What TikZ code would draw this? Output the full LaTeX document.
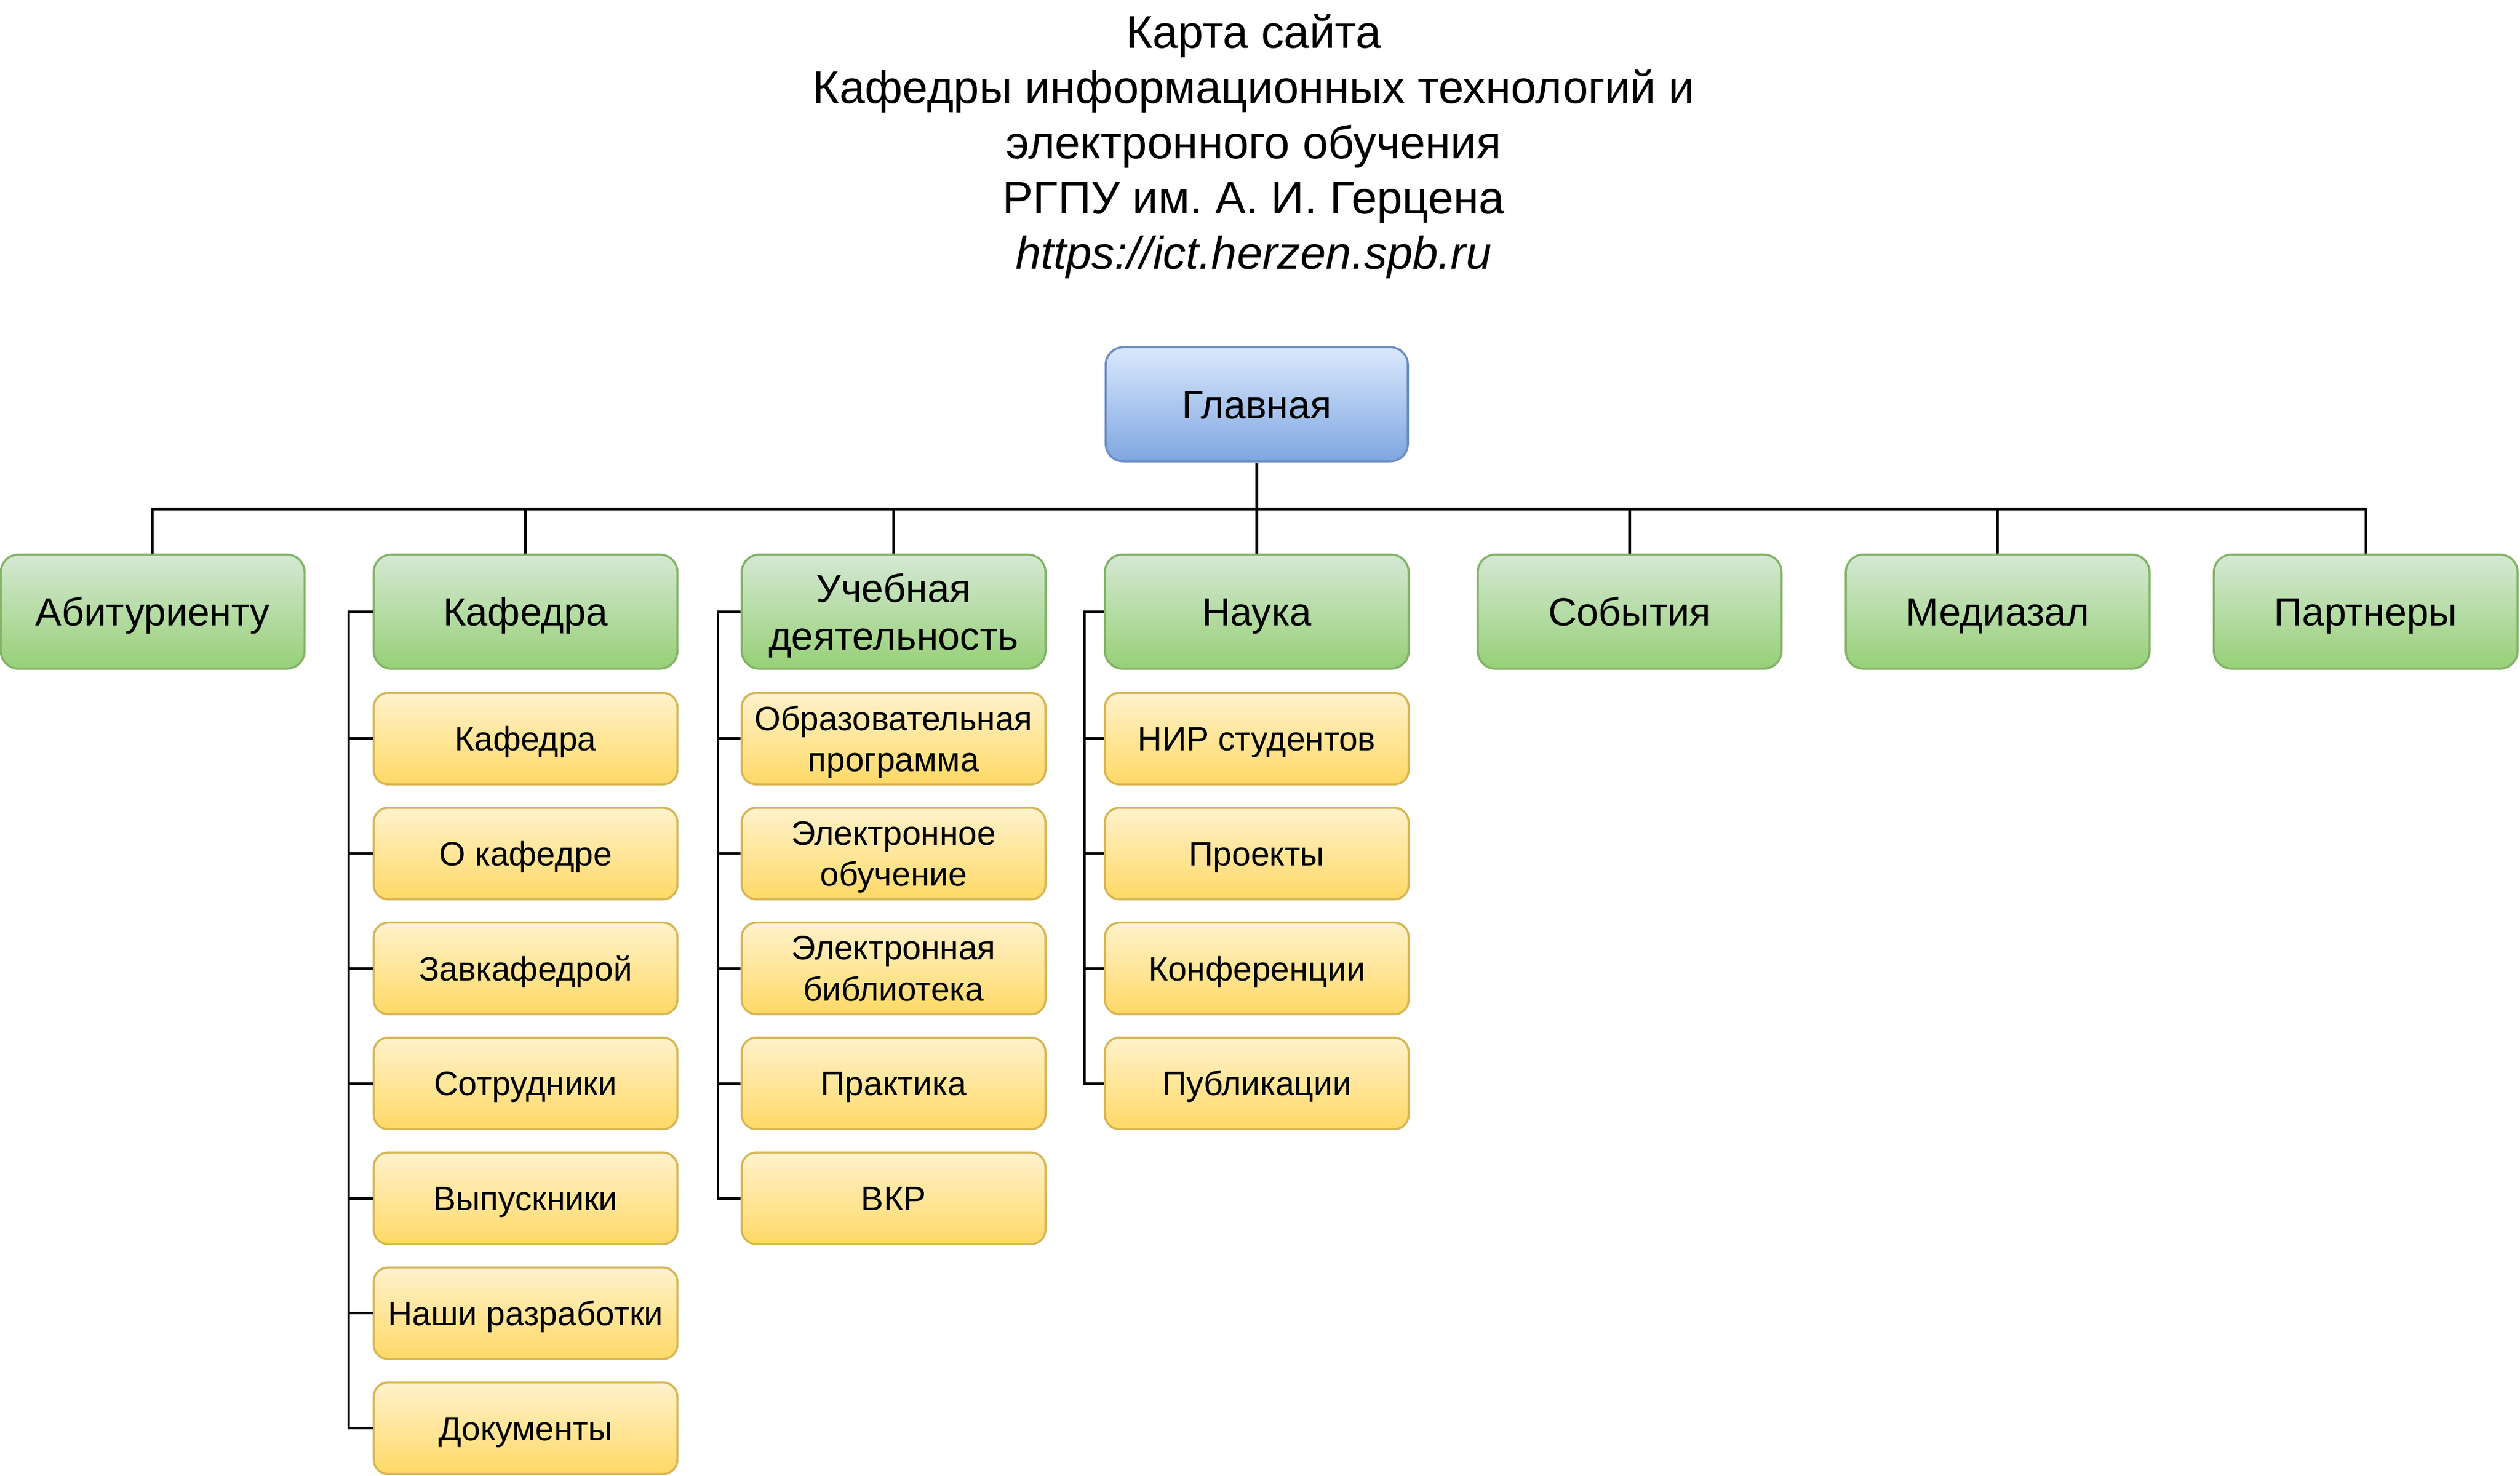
\documentclass[tikz,border=0pt]{standalone}
\usepackage{fontspec}
\setmainfont{Liberation Sans}
\frenchspacing
\definecolor{glavfill}{HTML}{DAE8FC}
\definecolor{glavshade}{HTML}{7EA6E0}
\definecolor{glavline}{HTML}{6C8EBF}
\definecolor{razdfill}{HTML}{D5E8D4}
\definecolor{razdshade}{HTML}{97D077}
\definecolor{razdline}{HTML}{82B366}
\definecolor{podrfill}{HTML}{FFF2CC}
\definecolor{podrshade}{HTML}{FFD966}
\definecolor{podrline}{HTML}{D6B656}
\tikzset{
  glavnaya/.style={draw=glavline, line width=1.3pt, top color=glavfill, bottom color=glavshade,
    rounded corners=11pt, minimum width=188pt, minimum height=71pt, inner sep=2pt,
    text height=17.6pt, text depth=0pt,
    align=center, font=\fontsize{24.5}{29.4}\selectfont},
  razdel/.style={draw=razdline, line width=1.3pt, top color=razdfill, bottom color=razdshade,
    rounded corners=11pt, minimum width=189pt, minimum height=71pt, inner sep=2pt,
    text height=17.6pt, text depth=0pt,
    align=center, font=\fontsize{24.5}{29.4}\selectfont},
  podrazdel/.style={draw=podrline, line width=1.3pt, top color=podrfill, bottom color=podrshade,
    rounded corners=9pt, minimum width=189pt, minimum height=57pt, inner sep=2pt,
    text height=15.1pt, text depth=0pt,
    align=center, font=\fontsize{21}{25.5}\selectfont},
  dvestroki/.style={text height={}, text depth=0pt},
  svyaz/.style={draw=black, line width=1.5pt}
}
\begin{document}
\begin{tikzpicture}[x=1pt, y=-1pt]
    \useasboundingbox (0,0) rectangle (1568,918);
    % zagolovok
    \node [align=center, font=\fontsize{28.5}{34.3}\selectfont] (zagol) at (780,91)
        {Карта сайта\\Кафедры информационных технологий и\\электронного обучения\\РГПУ им. А. И. Герцена\\\textit{https://ict.herzen.spb.ru}};
    % glavnaya i razdely
    \node [glavnaya] (glav) at (782,251.5) {Главная};
    \node [razdel] (abit) at (95,380.5) {Абитуриенту};
    \node [razdel] (kaf) at (327,380.5) {Кафедра};
    \node [razdel, dvestroki] (ucheb) at (556,380.5) {Учебная\\деятельность};
    \node [razdel] (nauka) at (782,380.5) {Наука};
    \node [razdel] (sob) at (1014,380.5) {События};
    \node [razdel] (media) at (1243,380.5) {Медиазал};
    \node [razdel] (partn) at (1472,380.5) {Партнеры};
    % kafedra
    \node [podrazdel] (kaf1) at (327,459.5) {Кафедра};
    \node [podrazdel] (kaf2) at (327,531) {О кафедре};
    \node [podrazdel] (kaf3) at (327,602.5) {Завкафедрой};
    \node [podrazdel] (kaf4) at (327,674) {Сотрудники};
    \node [podrazdel] (kaf5) at (327,745.5) {Выпускники};
    \node [podrazdel] (kaf6) at (327,817) {Наши разработки};
    \node [podrazdel] (kaf7) at (327,888.5) {Документы};
    % uchebnaya deyatelnost
    \node [podrazdel, dvestroki] (uch1) at (556,459.5) {Образовательная\\программа};
    \node [podrazdel, dvestroki] (uch2) at (556,531) {Электронное\\обучение};
    \node [podrazdel, dvestroki] (uch3) at (556,602.5) {Электронная\\библиотека};
    \node [podrazdel] (uch4) at (556,674) {Практика};
    \node [podrazdel] (uch5) at (556,745.5) {ВКР};
    % nauka
    \node [podrazdel] (nau1) at (782,459.5) {НИР студентов};
    \node [podrazdel] (nau2) at (782,531) {Проекты};
    \node [podrazdel] (nau3) at (782,602.5) {Конференции};
    \node [podrazdel] (nau4) at (782,674) {Публикации};
    % svyazi
    \draw [svyaz] (glav.south) -- ++(0,29) -| (abit.north);
    \draw [svyaz] (glav.south) -- ++(0,29) -| (kaf.north);
    \draw [svyaz] (glav.south) -- ++(0,29) -| (ucheb.north);
    \draw [svyaz] (glav.south) -- (nauka.north);
    \draw [svyaz] (glav.south) -- ++(0,29) -| (sob.north);
    \draw [svyaz] (glav.south) -- ++(0,29) -| (media.north);
    \draw [svyaz] (glav.south) -- ++(0,29) -| (partn.north);
    \draw [svyaz] (kaf.west) -- ++(-15,0) |- (kaf1.west);
    \draw [svyaz] (kaf.west) -- ++(-15,0) |- (kaf2.west);
    \draw [svyaz] (kaf.west) -- ++(-15,0) |- (kaf3.west);
    \draw [svyaz] (kaf.west) -- ++(-15,0) |- (kaf4.west);
    \draw [svyaz] (kaf.west) -- ++(-15,0) |- (kaf5.west);
    \draw [svyaz] (kaf.west) -- ++(-15,0) |- (kaf6.west);
    \draw [svyaz] (kaf.west) -- ++(-15,0) |- (kaf7.west);
    \draw [svyaz] (ucheb.west) -- ++(-14,0) |- (uch1.west);
    \draw [svyaz] (ucheb.west) -- ++(-14,0) |- (uch2.west);
    \draw [svyaz] (ucheb.west) -- ++(-14,0) |- (uch3.west);
    \draw [svyaz] (ucheb.west) -- ++(-14,0) |- (uch4.west);
    \draw [svyaz] (ucheb.west) -- ++(-14,0) |- (uch5.west);
    \draw [svyaz] (nauka.west) -- ++(-12,0) |- (nau1.west);
    \draw [svyaz] (nauka.west) -- ++(-12,0) |- (nau2.west);
    \draw [svyaz] (nauka.west) -- ++(-12,0) |- (nau3.west);
    \draw [svyaz] (nauka.west) -- ++(-12,0) |- (nau4.west);
\end{tikzpicture}
\end{document}
